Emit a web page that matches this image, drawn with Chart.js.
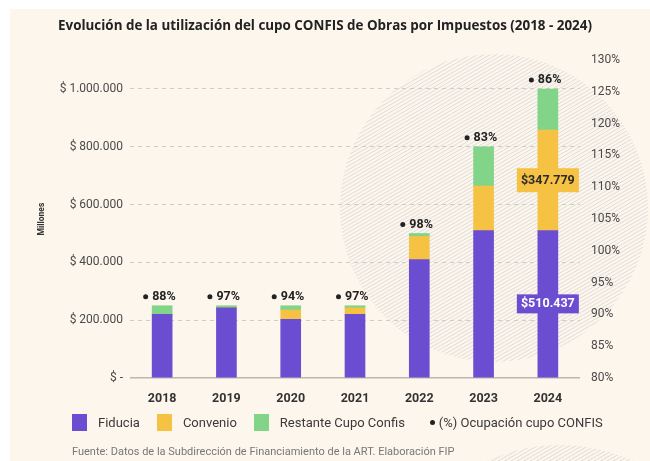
<!DOCTYPE html>
<html lang="es">
<head>
<meta charset="utf-8">
<script src="https://cdn.jsdelivr.net/npm/chart.js@4.4.1/dist/chart.umd.min.js"></script>
<style>
  html, body { margin: 0; padding: 0; background: #fff; }
  #wrap { position: relative; width: 650px; height: 461px; overflow: hidden; font-family: Roboto, sans-serif; }
  #card { position: absolute; left: 10px; top: 9px; right: 0; bottom: 0; background: #fcf6ec; }
  #grafico { position: absolute; left: 0; top: 0; }
  #leyenda { position: absolute; left: 72px; top: 413px; height: 18px; display: flex; align-items: center; font-size: 13px; color: #3a3a3a; white-space: nowrap; }
  #leyenda .item { display: flex; align-items: center; margin-right: 17px; }
  #leyenda .caja { width: 15px; height: 17px; margin-right: 11px; }
  #leyenda .punto { width: 5px; height: 5px; border-radius: 50%; background: #222; margin: 0 4px 0 8px; }
  #fuente { position: absolute; left: 72px; top: 445px; font-size: 11px; color: #777; white-space: nowrap; }
</style>
</head>
<body>
<div id="wrap">
  <div id="card"></div>
  <canvas id="grafico" width="650" height="461"></canvas>
  <div id="leyenda"></div>
  <div id="fuente">Fuente: Datos de la Subdirección de Financiamiento de la ART. Elaboración FIP</div>
</div>
<script>
// Datos (millones de pesos)
const anios = ['2018', '2019', '2020', '2021', '2022', '2023', '2024'];
const fiducia = [220000, 242500, 203000, 220000, 410000, 510000, 510437];
const convenio = [0, 0, 32000, 22500, 80000, 154000, 347779];
const restante = [30000, 7500, 15000, 7500, 10000, 136000, 141784];
const ocupacion = [88, 97, 94, 97, 98, 83, 86];
const aniosConEtiqueta = ['2024'];

const ticksMillones = [0, 200000, 400000, 600000, 800000, 1000000];
const ticksPorcentaje = [80, 85, 90, 95, 100, 105, 110, 115, 120, 125, 130];

const MORADO = '#6b4dd2';
const AMARILLO = '#f5c243';
const VERDE = '#82d489';

function miles(v) {
    return String(Math.round(v)).replace(/\B(?=(\d{3})+(?!\d))/g, '.');
}

// fondo rayado decorativo
function rayado(ctx, cx, cy, r) {
    ctx.save();
    ctx.beginPath();
    ctx.arc(cx, cy, r, 0, Math.PI * 2);
    ctx.clip();
    ctx.strokeStyle = 'rgba(150,150,170,0.28)';
    ctx.lineWidth = 1;
    const a = Math.PI / 6;
    const dx = Math.cos(a), dy = -Math.sin(a);
    const nx = Math.sin(a), ny = Math.cos(a);
    ctx.beginPath();
    for (let k = -r; k <= r; k += 3.2) {
        const px = cx + nx * k, py = cy + ny * k;
        ctx.moveTo(px - dx * r, py - dy * r);
        ctx.lineTo(px + dx * r, py + dy * r);
    }
    ctx.stroke();
    ctx.restore();
}

const fondoPlugin = {
    id: 'fondo',
    beforeDraw(chart) {
        rayado(chart.ctx, 494, 208, 154);
        rayado(chart.ctx, 560, 620, 175);
    }
};

const etiquetasPlugin = {
    id: 'etiquetas',
    afterDatasetsDraw(chart) {
        const ctx = chart.ctx;
        ctx.save();
        // (%) ocupación encima de cada barra
        const tope = chart.getDatasetMeta(2).data;
        ctx.textBaseline = 'middle';
        ctx.font = 'bold 12.5px Roboto';
        tope.forEach((bar, i) => {
            const y = bar.y - 9;
            ctx.fillStyle = '#222';
            ctx.beginPath();
            ctx.arc(bar.x - 16.5, y, 2.5, 0, Math.PI * 2);
            ctx.fill();
            ctx.textAlign = 'left';
            ctx.fillText(ocupacion[i] + '%', bar.x - 10, y);
        });
        // valores de fiducia y convenio
        ctx.font = 'bold 12.5px Roboto';
        ctx.textAlign = 'center';
        [[0, fiducia, MORADO, '#fff', 19], [1, convenio, AMARILLO, '#2b2b2b', 24]].forEach(([ds, valores, fondo, texto, alto]) => {
            const meta = chart.getDatasetMeta(ds);
            anios.forEach((anio, i) => {
                if (!aniosConEtiqueta.includes(anio)) return;
                const bar = meta.data[i];
                const yc = (bar.y + bar.base) / 2;
                ctx.fillStyle = fondo;
                ctx.fillRect(bar.x - 31, yc - alto / 2, 62, alto);
                ctx.fillStyle = texto;
                ctx.fillText('$' + miles(valores[i]), bar.x, yc + 0.5);
            });
        });
        ctx.restore();
    }
};

const series = [
    { label: 'Fiducia', data: fiducia, color: MORADO },
    { label: 'Convenio', data: convenio, color: AMARILLO },
    { label: 'Restante Cupo Confis', data: restante, color: VERDE }
];

const ctx = document.getElementById('grafico').getContext('2d');
const grafico = new Chart(ctx, {
    type: 'bar',
    data: {
        labels: anios,
        datasets: series.map(s => ({
            label: s.label,
            data: s.data,
            backgroundColor: s.color,
            borderWidth: 0,
            barThickness: 20,
            yAxisID: 'y'
        }))
    },
    options: {
        responsive: false,
        devicePixelRatio: 1,
        animation: false,
        layout: { padding: { top: 0, left: 0, right: 0, bottom: 58 } },
        scales: {
            x: {
                stacked: true,
                grid: { display: false },
                border: { display: false },
                ticks: { color: '#333', font: { family: 'Roboto', size: 12.5, weight: 'bold' }, padding: 5 },
                afterFit: s => { s.height = 25; }
            },
            y: {
                stacked: true,
                position: 'left',
                min: 0,
                max: 1100000,
                afterBuildTicks: s => { s.ticks = ticksMillones.map(v => ({ value: v })); },
                ticks: {
                    color: '#4a4a4a',
                    font: { family: 'Roboto', size: 12 },
                    padding: 7,
                    callback: v => v === 0 ? '$ -' : '$ ' + miles(v)
                },
                grid: {
                    drawTicks: false,
                    color: c => c.tick && c.tick.value === 0 ? '#b9b8b2' : '#cfcdc8',
                    lineWidth: c => c.tick && c.tick.value === 0 ? 1.5 : 1
                },
                border: { display: false, dash: c => c.tick && c.tick.value === 0 ? [] : [4, 4] },
                title: {
                    display: true,
                    text: 'Millones',
                    color: '#333',
                    font: { family: 'Roboto', size: 8.5, weight: 'bold' },
                    padding: { top: 37, bottom: 0 }
                },
                afterFit: s => { s.width = 130; }
            },
            y1: {
                position: 'right',
                min: 80,
                max: 130,
                afterBuildTicks: s => { s.ticks = ticksPorcentaje.map(v => ({ value: v })); },
                ticks: {
                    color: '#4a4a4a',
                    font: { family: 'Roboto', size: 12 },
                    padding: 11,
                    callback: v => v + '%'
                },
                grid: { display: false, drawTicks: false },
                border: { display: false },
                afterFit: s => { s.width = 70; }
            }
        },
        plugins: {
            title: {
                display: true,
                text: 'Evolución de la utilización del cupo CONFIS de Obras por Impuestos (2018 - 2024)',
                color: '#222',
                font: { family: 'Open Sans', size: 13.4, weight: 'bold' },
                padding: { top: 18, bottom: 26 }
            },
            legend: { display: false },
            tooltip: { enabled: false }
        }
    },
    plugins: [fondoPlugin, etiquetasPlugin]
});

// leyenda html
const leyenda = document.getElementById('leyenda');
series.forEach(s => {
    const item = document.createElement('div');
    item.className = 'item';
    item.innerHTML = '<span class="caja" style="background:' + s.color + '"></span><span>' + s.label + '</span>';
    leyenda.appendChild(item);
});
const itemPct = document.createElement('div');
itemPct.className = 'item';
itemPct.innerHTML = '<span class="punto"></span><span>(%) Ocupación cupo CONFIS</span>';
leyenda.appendChild(itemPct);
</script>
</body>
</html>
